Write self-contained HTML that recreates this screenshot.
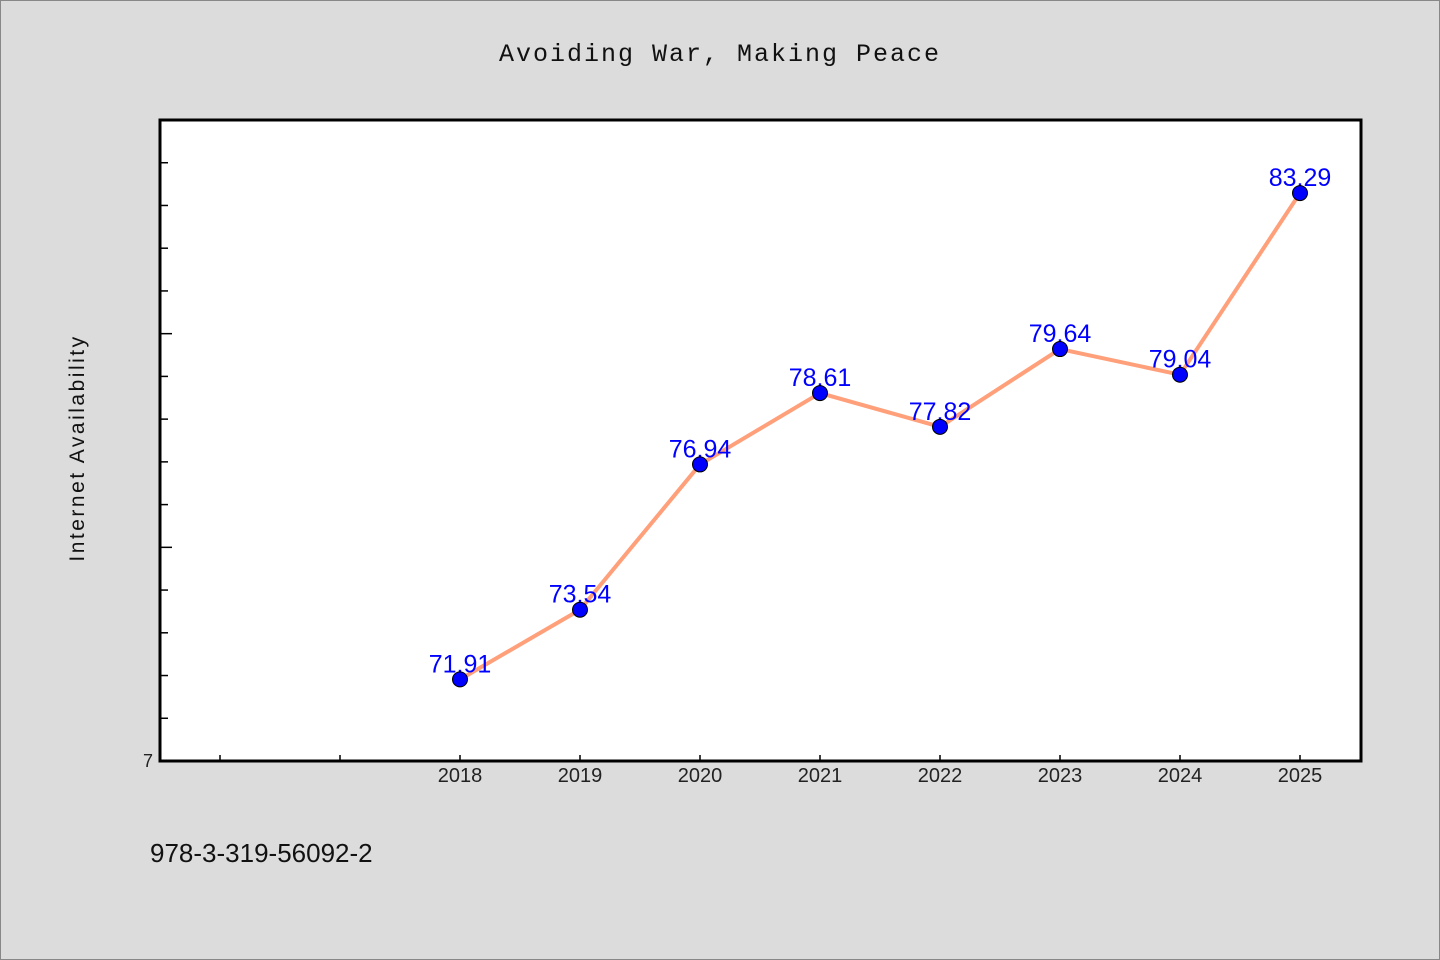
<!DOCTYPE html>
<html><head><meta charset="utf-8"><style>
html,body{margin:0;padding:0;background:#dcdcdc;}
svg{display:block;font-family:"Liberation Sans","WenQuanYi Zen Hei",sans-serif;}
</style></head><body>
<svg id="chart" width="1440" height="960" xmlns="http://www.w3.org/2000/svg">
<rect x="0.5" y="0.5" width="1439" height="959" fill="#dcdcdc" stroke="#888"/>
<text x="720" y="61" text-anchor="middle" font-size="25" letter-spacing="2" font-family="Liberation Mono, monospace" fill="#111">Avoiding War, Making Peace</text>
<rect x="160" y="120" width="1201" height="641" fill="#fff" stroke="#000" stroke-width="3"/>
<text transform="translate(84,448) rotate(-90)" text-anchor="middle" font-size="21" letter-spacing="2.5" fill="#111">Internet Availability</text>
<text x="150" y="862" font-size="26" fill="#111">978-3-319-56092-2</text>
<g id="axes"></g>
<g id="series"></g>
</svg>
<script>
const years = [2018, 2019, 2020, 2021, 2022, 2023, 2024, 2025];
const values = [71.91, 73.54, 76.94, 78.61, 77.82, 79.64, 79.04, 83.29];
const valueLabels = ["71.91", "73.54", "76.94", "78.61", "77.82", "79.64", "79.04", "83.29"];
const hiddenXTicks = [2016, 2017];
const yMin = 70, yMax = 85;

const NS = "http://www.w3.org/2000/svg";
const px0 = 160, px1 = 1360, py0 = 761, py1 = 120;
function xs(v){ return px0 + (v - 2015.5) / 10 * (px1 - px0); }
function ys(v){ return py0 - (v - yMin) / (yMax - yMin) * (py0 - py1); }
function mk(tag, attrs, parent){ const e = document.createElementNS(NS, tag); for (const k in attrs) e.setAttribute(k, attrs[k]); parent.appendChild(e); return e; }
const axes = document.getElementById('axes');
const series = document.getElementById('series');

for (let v = yMin + 1; v < yMax; v++) {
  const major = (v % 5 === 0);
  const t = mk('line', {x1: 160, x2: major ? 172 : 168, y1: ys(v), y2: ys(v), stroke: '#000', 'stroke-width': 1.5}, axes);
  
  
}
const yl = mk('text', {x: 153, y: ys(yMin) + 6, 'text-anchor': 'end', 'font-size': 18, fill: '#222'}, axes);
yl.textContent = String(yMin).slice(0, 1);



hiddenXTicks.concat(years).forEach(function(y){
  const t = mk('line', {x1: xs(y), x2: xs(y), y1: 761, y2: 755, stroke: '#000', 'stroke-width': 1.5}, axes);
  
  
});
years.forEach(function(y){
  const l = mk('text', {x: xs(y), y: 782, 'text-anchor': 'middle', 'font-size': 20, fill: '#222'}, axes);
  l.textContent = y;
  
  
});

const pts = years.map(function(y, i){ return xs(y) + ',' + ys(values[i]); }).join(' ');
const line = mk('polyline', {points: pts, fill: 'none', stroke: '#ffa07a', 'stroke-width': 4, 'stroke-linejoin': 'round'}, series);



years.forEach(function(y, i){
  const lb = mk('text', {x: xs(y), y: ys(values[i]) - 7, 'text-anchor': 'middle', 'font-size': 25, fill: '#0000ff'}, series);
  lb.textContent = valueLabels[i];
  
  
});
years.forEach(function(y, i){
  const c = mk('circle', {cx: xs(y), cy: ys(values[i]), r: 7.5, fill: '#0000ff', stroke: '#000', 'stroke-width': 1}, series);
  
  
});
</script>
</body></html>
